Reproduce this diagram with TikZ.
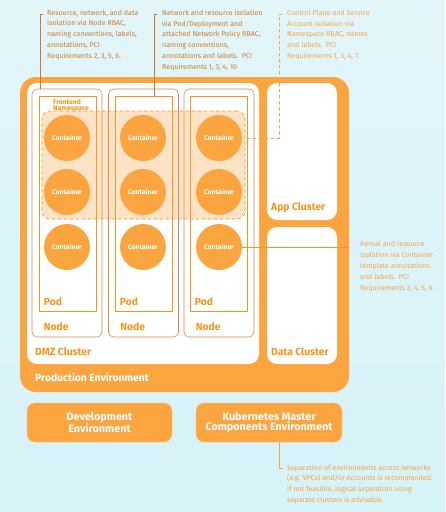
\documentclass[tikz,border=0pt]{standalone}
\usepackage{fontspec}
\setmainfont{Fira Sans}
\usetikzlibrary{positioning,calc}
\definecolor{envorange}{HTML}{FBA541}
\definecolor{lblorange}{HTML}{F7941D}
\definecolor{nodebrown}{HTML}{D4875A}
\definecolor{notebrown}{HTML}{CC7A2C}
\definecolor{notelight}{HTML}{F5A34A}
\definecolor{bgtop}{HTML}{E2F5F9}
\definecolor{bgmid}{HTML}{F4FCFD}
\definecolor{bgbot}{HTML}{D6F3F8}
\begin{document}
\begin{tikzpicture}[x=1pt, y=-1pt, line join=round, line cap=round, font=\footnotesize,
	envbox/.style={fill=envorange, rounded corners=16pt, inner sep=0pt},
	clusterbox/.style={fill=white, rounded corners=10pt, inner sep=0pt},
	nodebox/.style={draw=nodebrown, line width=0.6pt, rounded corners=5pt, minimum width=70pt, minimum height=248pt, inner sep=0pt},
	podbox/.style={draw=lblorange, line width=0.6pt, minimum width=57pt, minimum height=215pt, inner sep=0pt},
	ctr/.style={circle, fill=envorange, minimum size=46pt, inner sep=0pt, text=white, font=\fontsize{6.7}{7}\selectfont\bfseries},
	lbl/.style={anchor=west, inner sep=0pt, text=lblorange, font=\fontsize{10.3}{12}\selectfont\bfseries},
	note/.style={anchor=north west, inner sep=0pt, align=left, font=\fontsize{7.1}{10.8}\selectfont},
	envlbl/.style={envbox, rounded corners=8pt, draw=envorange!70, line width=0.4pt, minimum width=145pt, minimum height=39pt, align=center, text=white, font=\fontsize{10.8}{10.6}\selectfont\bfseries}]
	% background
	\useasboundingbox (0,0) rectangle (445,512);
	\shade[top color=bgtop, middle color=bgmid, bottom color=bgbot] (0,0) rectangle (445,512);
	% environments and clusters
	\node[envbox, minimum width=329pt, minimum height=315pt] (prod) at (184.5,234.5) {};
	\node[clusterbox, minimum width=232pt, minimum height=281pt] (dmz) at (143,223.5) {};
	\node[clusterbox, minimum width=70pt, minimum height=137pt] (app) at (302,151.5) {};
	\node[clusterbox, minimum width=70pt, minimum height=137pt] (data) at (302,295.5) {};
	\node[lbl, text=white] (prodlbl) at (35,377) {Production Environment};
	\node[lbl] (dmzlbl) at (35,352) {DMZ Cluster};
	\node[lbl] (applbl) at (271,208) {App Cluster};
	\node[lbl] (datalbl) at (271,352) {Data Cluster};
	% nodes and pods
	\foreach \i/\x/\p in {1/67/67.5,2/143.5/143.5,3/219/218.5}{
		\node[nodebox] (node\i) at (\x,213) {};
		\node[podbox] (pod\i) at (\p,203.5) {};
		\node[lbl] (podlbl\i) at ($(pod\i.south west)+(5,-10)$) {Pod};
		\node[lbl] (nodelbl\i) at ($(node\i.south west)+(12,-11)$) {Node};
	}
	% namespace
	\node[draw=lblorange, dashed, line width=0.6pt, fill=envorange, fill opacity=0.3, rounded corners=8pt, minimum width=203pt, minimum height=108pt, inner sep=0pt] (ns) at (143.5,165) {};
	\node[anchor=south west, inner sep=0pt, align=left, text=lblorange, font=\fontsize{6.8}{5.6}\selectfont\bfseries] (nslbl) at (53,112) {Frontend\\Namespace};
	% containers
	\foreach \i/\x in {1/67,2/143,3/219}{
		\foreach \j/\y in {1/138,2/192,3/247}{
			\node[ctr] (c\i\j) at (\x,\y) {Container};
		}
	}
	% callouts
	\node[note, text=notebrown] (note1) at (47,9.6) {Resource, network, and data\\isolation via Node RBAC,\\naming conventions, labels,\\annotations, PCI\\Requirements 2, 3, 5, 6.};
	\node[note, text=notebrown] (note2) at (162,9.6) {Network and resource isolation\\via Pod/Deployment and\\attached Network Policy RBAC,\\naming conventions,\\annotations and labels.\enspace PCI\\Requirements 1, 3, 4, 10};
	\node[note, text=notelight] (note3) at (287,9.6) {Control Plane and Service\\Account Isolation via\\Namespace RBAC, names\\and labels.\enspace PCI\\Requirements 1, 3, 4, 7.};
	\node[note, text=notelight] (note4) at (360,241.3) {Kernal and resource\\isolation via Container\\template annotations\\and labels.\enspace PCI\\Requirements 2, 4, 5, 6.};
	\coordinate (b1) at (40,14.3);
	\coordinate (b2) at (154,14.3);
	\coordinate (b3) at (279,14.3);
	\coordinate (b4) at (348,247);
	\draw[notebrown, line width=0.6pt] ($(b1)+(3,0)$) -- (b1) -- (b1 |- node1.north);
	\draw[notebrown, line width=0.6pt] ($(b2)+(3,0)$) -- (b2) -- (b2 |- pod2.north);
	\draw[notelight, dashed, line width=0.6pt] ($(b3)+(3,0)$) -- (b3) -- (b3 |- c31) -- (ns.east |- c31);
	\draw[lblorange, line width=1pt] (c33.east) -- (b4);
	% other environments
	\node[envlbl] (dev) at (99.5,422.5) {Development\\Environment};
	\node[envlbl, minimum width=146pt] (k8s) at (269,422.5) {Kubernetes Master\\Components Environment};
	\node[note, text=notelight] (note5) at (287,464.3) {Separation of environments across networks\\(e.g. VPCs) and/or Accounts is recommended.\\If not feasible, logical separation using\\separate clusters is advisable.};
	\coordinate (b5) at (279,468.5);
	\draw[notelight, line width=0.6pt] (b5 |- k8s.south) -- (b5) -- ++(4,0);
\end{tikzpicture}
\end{document}
